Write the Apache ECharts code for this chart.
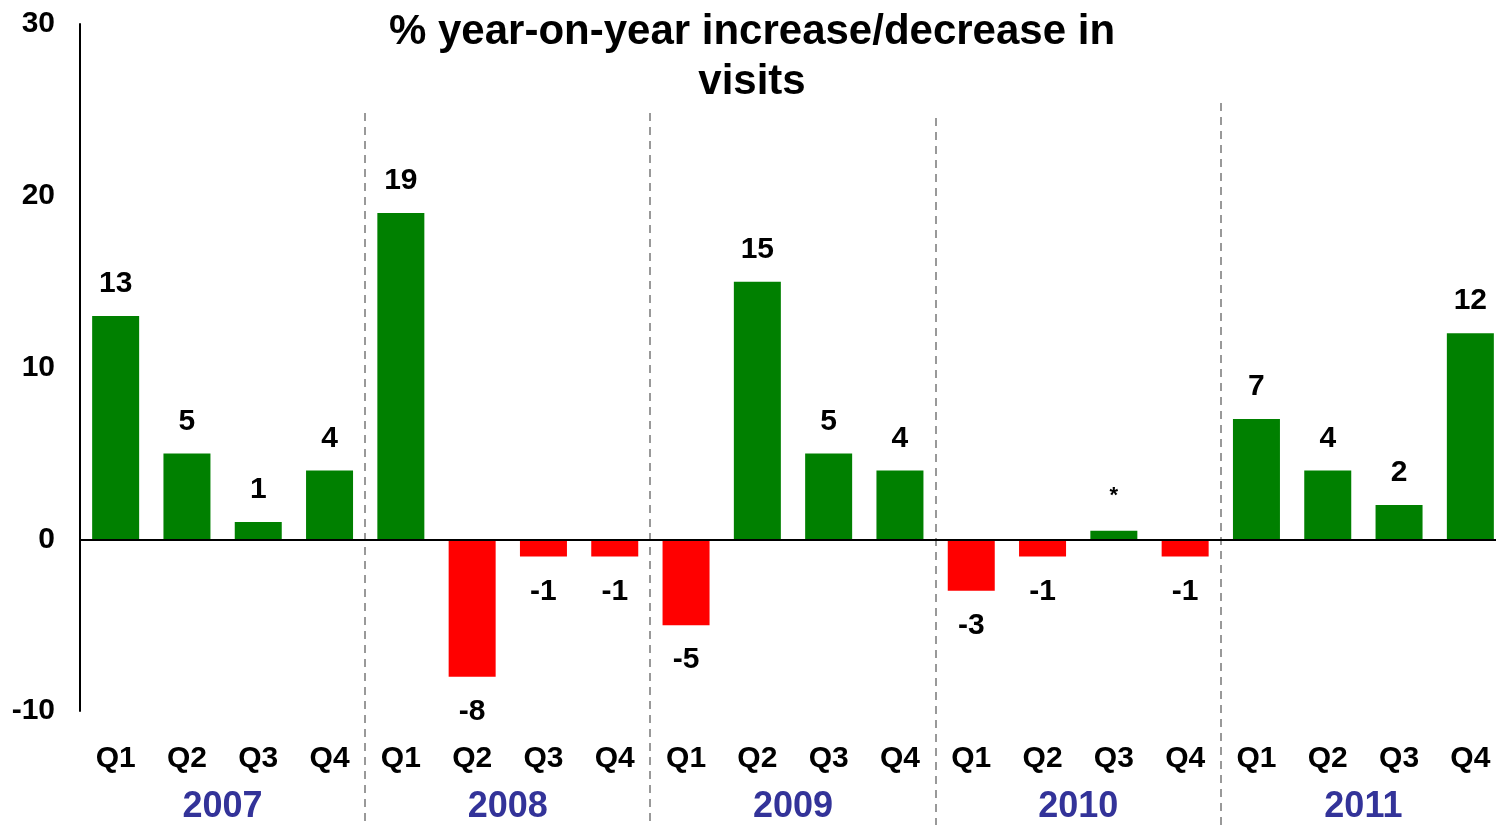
<!DOCTYPE html>
<html>
<head>
<meta charset="utf-8">
<script src="https://cdn.jsdelivr.net/npm/echarts@6/dist/echarts.min.js"></script>
<style>html,body{margin:0;padding:0;background:#fff;overflow:hidden}#c{width:1512px;height:825px}</style>
</head>
<body>
<div id="c"></div>
<script>
const quarters = ['Q1','Q2','Q3','Q4','Q1','Q2','Q3','Q4','Q1','Q2','Q3','Q4','Q1','Q2','Q3','Q4','Q1','Q2','Q3','Q4'];
const years = ['2007','2008','2009','2010','2011'];
const values = [13,5,1,4, 19,-8,-1,-1, -5,15,5,4, -3,-1,0.5,-1, 7,4,2,12];
const valueLabels = ['13','5','1','4','19','-8','-1','-1','-5','15','5','4','-3','-1','*','-1','7','4','2','12'];
const yTicks = { min: -10, max: 30, interval: 10 };
const titleText = '% year-on-year increase/decrease in\nvisits';

const chart = echarts.init(document.getElementById('c'), null, { renderer: 'canvas' });
const font = 'Liberation Sans, Arial, sans-serif';

const barData = values.map((v, i) => {
  const isStar = valueLabels[i] === '*';
  return {
    value: v,
    itemStyle: { color: v >= 0 ? '#008000' : '#FF0000' },
    label: {
      show: true,
      position: v >= 0 ? 'top' : 'bottom',
      distance: isStar ? 24 : (v >= 0 ? 17 : 20),
      formatter: valueLabels[i],
      fontSize: isStar ? 22 : 30,
      fontWeight: 'bold',
      fontFamily: font,
      color: '#000'
    }
  };
});

const option = {
  animation: false,
  backgroundColor: '#fff',
  title: {
    text: titleText,
    left: 747,
    top: 2,
    textAlign: 'center',
    textStyle: {
      fontFamily: font,
      fontWeight: 'bold',
      fontSize: 42,
      lineHeight: 50,
      color: '#000'
    }
  },
  grid: { left: 80, top: 24, width: 1426, height: 688, containLabel: false },
  xAxis: [
    {
      type: 'category',
      data: quarters,
      position: 'bottom',
      axisLine: { show: false, onZero: false },
      axisTick: { show: false },
      axisLabel: { margin: 33, fontSize: 30, fontWeight: 'bold', fontFamily: font, color: '#000', interval: 0 }
    },
    {
      type: 'category',
      data: years,
      position: 'bottom',
      axisLine: { show: false, onZero: false },
      axisTick: { show: false },
      axisLabel: { margin: 78, fontSize: 36, fontWeight: 'bold', fontFamily: font, color: '#333399', interval: 0 }
    }
  ],
  yAxis: {
    type: 'value',
    min: yTicks.min, max: yTicks.max, interval: yTicks.interval,
    axisLine: { show: true, lineStyle: { color: '#000', width: 2 } },
    axisTick: { show: false },
    splitLine: { show: false },
    axisLabel: { margin: 25, fontSize: 30, fontWeight: 'bold', fontFamily: font, color: '#000' }
  },
  series: [{
    type: 'bar',
    xAxisIndex: 0,
    data: barData,
    barWidth: 47,
    markLine: {
      silent: true,
      symbol: 'none',
      label: { show: false },
      lineStyle: { color: '#000', width: 2, type: 'solid' },
      data: [{ yAxis: 0 }]
    }
  }]
};
chart.setOption(option);

// dashed year separators at category boundaries, via the library's scale
const sepTops = [113, 113, 118, 103];
const graphics = [];
for (let g = 1; g < years.length; g++) {
  const a = chart.convertToPixel({ xAxisIndex: 0 }, g * 4 - 1);
  const b = chart.convertToPixel({ xAxisIndex: 0 }, g * 4);
  const x = Math.round((a + b) / 2);
  graphics.push({
    type: 'line',
    shape: { x1: x, y1: sepTops[g - 1], x2: x, y2: 825 },
    style: { stroke: '#999', lineWidth: 2, lineDash: [8, 6] },
    z: 0
  });
}
chart.setOption({ graphic: graphics });
</script>
</body>
</html>
